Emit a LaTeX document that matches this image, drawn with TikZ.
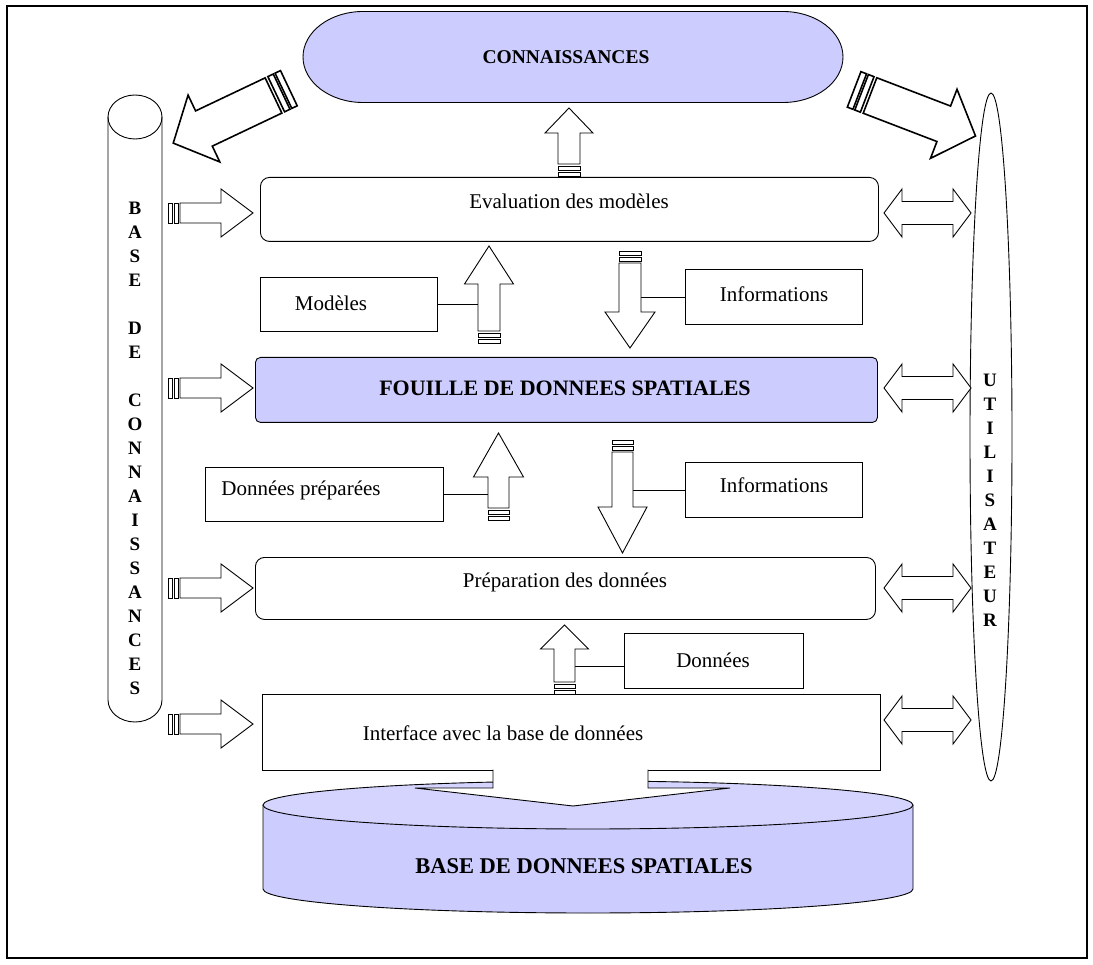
\documentclass[tikz,border=0pt]{standalone}
\usepackage{fontspec}
\setmainfont{Liberation Serif}
\usetikzlibrary{calc}
\definecolor{lav}{HTML}{CCCCFF}
\definecolor{lavtop}{HTML}{D4D4FF}
\begin{document}
\begin{tikzpicture}[x=1pt,y=-1pt,line width=0.9pt,
  txt/.style={font=\fontsize{21}{24}\selectfont, inner sep=0pt},
  btxt/.style={font=\bfseries\fontsize{22}{25}\selectfont, inner sep=0pt},
  letter/.style={font=\bfseries\fontsize{19}{22}\selectfont, inner sep=0pt},
  box/.style={draw, fill=white, anchor=north west, inner sep=0pt},
  rbox/.style={box, rounded corners=9pt},
  link/.style={draw, line width=0.8pt},
  bigline/.style={line width=1.6pt},
  % block arrow along +x: #1 shaft length, #2 head length, #3 shaft half width, #4 head half width
  pics/blk/.style n args={4}{code={
    \filldraw[fill=white] (0,-#3) -- (#1,-#3) -- (#1,-#4) -- ({#1+#2},0) -- (#1,#4) -- (#1,#3) -- (0,#3) -- cycle;
    \filldraw[fill=white] (-2,-#3) rectangle (-6,#3);
    \filldraw[fill=white] (-8,-#3) rectangle (-12,#3);
  }},
  pics/bigblk/.style n args={4}{code={
    \filldraw[fill=white,bigline] (0,-#3) -- (#1,-#3) -- (#1,-#4) -- ({#1+#2},0) -- (#1,#4) -- (#1,#3) -- (0,#3) -- cycle;
    \filldraw[fill=white,bigline] (-3,-#3) rectangle (-9,#3);
    \filldraw[fill=white,bigline] (-11,-#3) rectangle (-17,#3);
  }},
  % two-headed block arrow: #1 total length, #2 head length, #3 shaft half width, #4 head half width
  pics/dbl/.style n args={4}{code={
    \filldraw[fill=white] (0,0) -- (#2,-#4) -- (#2,-#3) -- ({#1-#2},-#3) -- ({#1-#2},-#4) -- (#1,0)
      -- ({#1-#2},#4) -- ({#1-#2},#3) -- (#2,#3) -- (#2,#4) -- cycle;
  }},
]
\useasboundingbox (0,0) rectangle (1093,965);

% outer frame
\draw[line width=1.6pt] (7,6) rectangle (1087,958);

% knowledge base cylinder (left)
\draw[fill=white] (108,117) -- (108,700) arc[start angle=180, end angle=0, x radius=27, y radius=22] -- (162,117);
\draw (135,117) ellipse[x radius=27, y radius=22];
\foreach \c/\k in {B/0,A/1,S/2,E/3,D/5,E/6,C/8,O/9,N/10,N/11,A/12,I/13,S/14,S/15,A/16,N/17,C/18,E/19,S/20}
  \node[letter] (bc\k) at (135,{208+24*\k}) {\c};

% user ellipse (right)
\draw (991,437) ellipse[x radius=21, y radius=344];
\foreach \c/\k in {U/0,T/1,I/2,L/3,I/4,S/5,A/6,T/7,E/8,U/9,R/10}
  \node[letter] (us\k) at (990,{380+24*\k}) {\c};

% knowledge capsule with elliptic ends
\filldraw[fill=lav] (363,11.5) -- (783,11.5) arc[start angle=-90, end angle=90, x radius=60, y radius=45.5]
  -- (363,102.5) arc[start angle=90, end angle=270, x radius=60, y radius=45.5] -- cycle;
\node[btxt, font=\bfseries\fontsize{19.5}{22}\selectfont] (connT) at (566,57) {CONNAISSANCES};

% spatial database
\fill[lav] (263,805) -- (263,889) arc[start angle=180, end angle=0, x radius=325, y radius=24]
  -- (913,805) arc[start angle=0, end angle=-180, x radius=325, y radius=24] -- cycle;
\draw (263,805) -- (263,889) arc[start angle=180, end angle=0, x radius=325, y radius=24] -- (913,805);
\draw[fill=lavtop] (588,805) ellipse[x radius=325, y radius=24];
\node[btxt, font=\bfseries\fontsize{22.5}{25}\selectfont] (dbT) at (584,866) {BASE DE DONNEES SPATIALES};

% process boxes
\node[rbox, minimum width=618pt, minimum height=64pt] (eval) at (260,177) {};
\node[box, minimum width=177pt, minimum height=54pt] (modeles) at (260,277) {};
\node[box, minimum width=177pt, minimum height=55pt] (info1) at (685,269) {};
\node[box, fill=lav, rounded corners=5pt, minimum width=622pt, minimum height=65pt] (fouille) at (255,357) {};
\node[box, minimum width=238pt, minimum height=54pt] (donprep) at (205,467) {};
\node[box, minimum width=177pt, minimum height=55pt] (info2) at (685,462) {};
\node[rbox, minimum width=620pt, minimum height=62pt] (prep) at (255,557) {};
\node[box, minimum width=179pt, minimum height=55pt] (donnees) at (624,633) {};
\node[box, minimum width=618pt, minimum height=76pt] (iface) at (262,694) {};

% opening of the interface onto the database
\filldraw[fill=white] (493,769.5) -- (493,788) -- (415,788) -- (573,806) -- (730,788) -- (648,788) -- (648,769.5);

% tails of the vertical arrows
\coordinate (tC) at (569,164);
\coordinate (tM) at (489,331);
\coordinate (tI1) at (630,263);
\coordinate (tP) at (498.5,508);
\coordinate (tI2) at (622.5,452);
\coordinate (tD) at (564.5,682);

% links from side boxes to the arrows
\draw[link] (modeles.east) -- (modeles.east -| tM);
\draw[link] (info1.west) -- (info1.west -| tI1);
\draw[link] (donprep.east) -- (donprep.east -| tP);
\draw[link] (info2.west) -- (info2.west -| tI2);
\draw[link] ([yshift=-5pt]donnees.west) -- ([yshift=-5pt]donnees.west -| tD);

% vertical flow arrows
\pic[rotate=90] at (tC) {blk={31}{25}{11}{24}};
\pic[rotate=90] at (tM) {blk={47}{38}{11}{24.5}};
\pic[rotate=-90] at (tI1) {blk={49}{36}{11}{25}};
\pic[rotate=90] at (tP) {blk={31}{44}{10.5}{25}};
\pic[rotate=-90] at (tI2) {blk={55}{46}{10.5}{24.5}};
\pic[rotate=90] at (tD) {blk={33}{24}{10.5}{24}};

% arrows from the knowledge base
\foreach \y in {213,388,588,724} \pic at (180,\y) {blk={41}{32}{10}{24}};

% two-way arrows with the user
\foreach \y in {213,388,588,720} \pic at (884,\y) {dbl={87}{18}{11.5}{24}};

% knowledge feeding both sides
\pic[rotate=205.4] at (273.5,95.5) {bigblk={77}{34}{19.5}{37}};
\pic[rotate=-21] at (870,95.5) {bigblk={79}{34}{19}{37}};

% labels
\node[txt] (evalT) at (569,201) {Evaluation des modèles};
\node[txt] (modT) at (331,303) {Modèles};
\node[txt] (inf1T) at (774,294) {Informations};
\node[btxt] (fouT) at (565,388) {FOUILLE DE DONNEES SPATIALES};
\node[txt] (dpT) at (301,490) {Données préparées};
\node[txt] (inf2T) at (774,485) {Informations};
\node[txt] (prepT) at (565,582) {Préparation des données};
\node[txt] (donT) at (713,660) {Données};
\node[txt] (ifT) at (503,733) {Interface avec la base de données};
\end{tikzpicture}
\end{document}
